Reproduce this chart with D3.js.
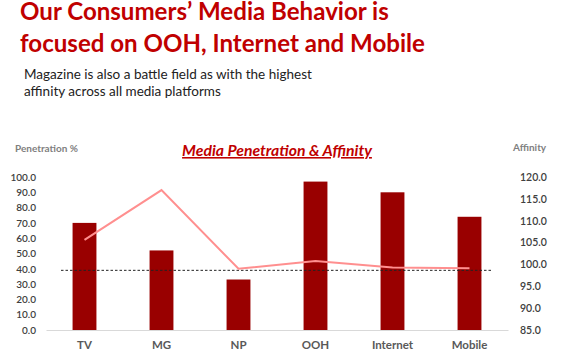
<!DOCTYPE html>
<html><head><meta charset="utf-8">
<script src="https://cdn.jsdelivr.net/npm/d3@7"></script>
<style>body{margin:0;background:#fff}svg{display:block}text{font-family:Lato,"Open Sans",sans-serif}</style>
</head><body>
<svg id="c" width="570" height="360"></svg>
<script>
const categories = ["TV","MG","NP","OOH","Internet","Mobile"];
const penetration = [70, 52, 33, 97, 90, 74];
const affinity = [105.6, 117, 99, 100.8, 99.3, 99.1];
const leftTicks = [0,10,20,30,40,50,60,70,80,90,100];
const rightTicks = [85,90,95,100,105,110,115,120];
const referenceLevel = 39;

const svg = d3.select("#c");
const x = d3.scaleBand().domain(categories).range([46, 508]).paddingInner(0.69).paddingOuter(0.345);
const yL = d3.scaleLinear().domain([0,100]).range([330,177]);
const yR = d3.scaleLinear().domain([85,120]).range([330,177]);

// titles
const t1 = svg.append("text").attr("x",20).attr("y",20).attr("fill","#C00000").attr("font-weight","bold").attr("font-size",24).text("Our Consumers\u2019 Media Behavior is");
const t2 = svg.append("text").attr("x",20).attr("y",52).attr("fill","#C00000").attr("font-weight","bold").attr("font-size",24).text("focused on OOH, Internet and Mobile");
const s1 = svg.append("text").attr("x",24).attr("y",79).attr("fill","#222").attr("font-size",13.5).text("Magazine is also a battle field as with the highest");
const s2 = svg.append("text").attr("x",24).attr("y",96).attr("fill","#222").attr("font-size",13.5).text("affinity across all media platforms");
function fit(sel, w){ const l = sel.node().getComputedTextLength(); sel.attr("font-size", (+sel.attr("font-size"))*w/l); }
fit(t2, 405); t1.attr("font-size", t2.attr("font-size"));
fit(s1, 288); s2.attr("font-size", s1.attr("font-size"));

svg.append("text").attr("x",15).attr("y",152).attr("fill","#7f7f7f").attr("font-weight","bold").attr("font-size",10).text("Penetration %");
svg.append("text").attr("x",513).attr("y",151).attr("fill","#7f7f7f").attr("font-weight","bold").attr("font-size",10).text("Affinity");
const ct = svg.append("text").attr("x",277).attr("y",156).attr("text-anchor","middle").attr("fill","#C00000").attr("font-weight","bold").attr("font-style","italic").attr("font-size",13).attr("text-decoration","underline").text("Media Penetration & Affinity");
fit(ct, 190);

// bars
svg.append("g").selectAll("rect").data(categories).join("rect")
  .attr("x", d=>x(d)).attr("width", x.bandwidth())
  .attr("y", (d,i)=>yL(penetration[i])).attr("height", (d,i)=>yL(0)-yL(penetration[i]))
  .attr("fill","#990000");

// axes
const ax = svg.append("g").attr("transform","translate(0,330)").call(d3.axisBottom(x).tickSize(0).tickPadding(11));
ax.select(".domain").attr("stroke","#d9d9d9");
ax.selectAll("text").attr("font-size",11.5).attr("font-weight","bold").attr("fill","#595959").attr("font-family","Lato,sans-serif");

const al = svg.append("g").attr("transform","translate(40,0)").call(d3.axisLeft(yL).tickValues(leftTicks).tickSize(0).tickPadding(4).tickFormat(d3.format(".1f")));
al.select(".domain").remove();
al.selectAll("text").attr("font-size",10).attr("font-weight",600).attr("fill","#404040").attr("font-family","Lato,sans-serif");

const ar = svg.append("g").attr("transform","translate(517,0)").call(d3.axisRight(yR).tickValues(rightTicks).tickSize(0).tickPadding(3).tickFormat(d3.format(".1f")));
ar.select(".domain").remove();
ar.selectAll("text").attr("font-size",10.5).attr("font-weight",600).attr("fill","#404040").attr("font-family","Lato,sans-serif");

// dashed reference
svg.append("line").attr("x1",61).attr("x2",493).attr("y1",yL(referenceLevel)).attr("y2",yL(referenceLevel))
  .attr("stroke","#222").attr("stroke-width",1).attr("stroke-dasharray","2.5,2");

// affinity line
const line = d3.line().x((d,i)=>x(categories[i])+x.bandwidth()/2).y(d=>yR(d));
svg.append("path").datum(affinity).attr("d",line).attr("fill","none").attr("stroke","#FF8F8F").attr("stroke-width",2);
</script>
</body></html>
